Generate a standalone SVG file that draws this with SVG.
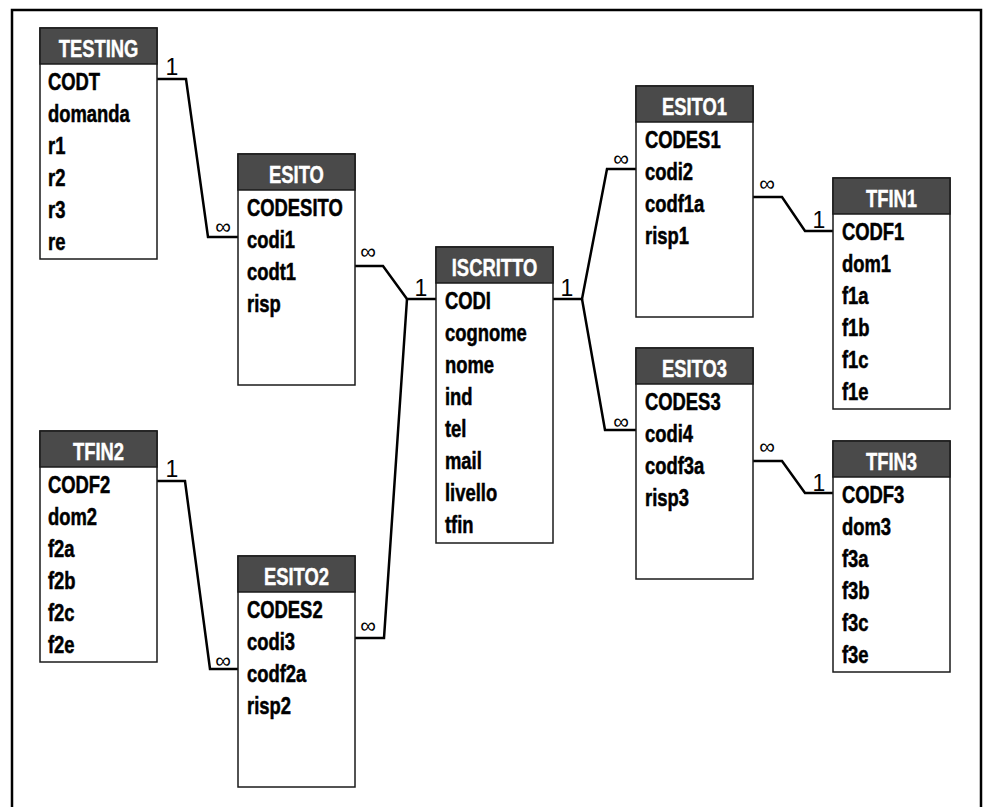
<svg xmlns="http://www.w3.org/2000/svg" width="985" height="807" viewBox="0 0 985 807">
<style>
.frame{fill:#fff;stroke:#000;stroke-width:2.5}
.box{fill:#fff;stroke:#1a1a1a;stroke-width:1.5}
.hdr{fill:#4a4a4a;stroke:#1a1a1a;stroke-width:1.5}
.ht{font-family:"Liberation Sans",Arial,sans-serif;font-weight:bold;font-size:23px;fill:#fff;stroke:#fff;stroke-width:0.4;text-anchor:middle}
.ft{font-family:"Liberation Sans",Arial,sans-serif;font-weight:bold;font-size:23px;fill:#000;stroke:#000;stroke-width:0.5}
.ln{fill:none;stroke:#000;stroke-width:2.5;stroke-linejoin:miter}
.lb{font-family:"Liberation Sans",Arial,sans-serif;font-size:23px;fill:#000;text-anchor:middle}
.inf{font-family:"Liberation Sans",Arial,sans-serif;font-size:22px;fill:#000;text-anchor:middle}
</style>
<rect class="frame" x="12" y="10" width="969" height="830"/>
<g id="connectors">
<polyline class="ln" points="157,79 186,79 208,237 238,237"/>
<text class="lb" x="172" y="75">1</text>
<text class="inf" x="223" y="234">∞</text>
<polyline class="ln" points="355,266 383,266 407,299 436,299"/>
<text class="inf" x="368" y="259">∞</text>
<text class="lb" x="421" y="296">1</text>
<polyline class="ln" points="355,638 384,638 407,299"/>
<text class="inf" x="368" y="633">∞</text>
<polyline class="ln" points="553,299 582,299 607,169 636,169"/>
<polyline class="ln" points="582,299 605,430 636,430"/>
<text class="lb" x="567" y="296">1</text>
<text class="inf" x="621" y="166">∞</text>
<text class="inf" x="621" y="429">∞</text>
<polyline class="ln" points="753,197 782,197 805,231 833,231"/>
<text class="inf" x="767" y="191">∞</text>
<text class="lb" x="819" y="228">1</text>
<polyline class="ln" points="753,461 782,461 805,493 833,493"/>
<text class="inf" x="767" y="454">∞</text>
<text class="lb" x="819" y="491">1</text>
<polyline class="ln" points="157,481 185,481 210,669 238,669"/>
<text class="lb" x="172" y="477">1</text>
<text class="inf" x="223" y="668">∞</text>
</g>
<g id="TESTING">
<rect class="box" x="40" y="28" width="117" height="231"/>
<rect class="hdr" x="40" y="28" width="117" height="36"/>
<text class="ht" transform="translate(98.5,57) scale(0.8,1)">TESTING</text>
<g transform="translate(48,0) scale(0.8,1)">
<text class="ft" y="90">CODT</text>
<text class="ft" y="122">domanda</text>
<text class="ft" y="154">r1</text>
<text class="ft" y="186">r2</text>
<text class="ft" y="218">r3</text>
<text class="ft" y="250">re</text>
</g>
</g>
<g id="ESITO">
<rect class="box" x="238" y="154" width="117" height="231"/>
<rect class="hdr" x="238" y="154" width="117" height="36"/>
<text class="ht" transform="translate(296.5,183) scale(0.8,1)">ESITO</text>
<g transform="translate(247,0) scale(0.8,1)">
<text class="ft" y="216">CODESITO</text>
<text class="ft" y="248">codi1</text>
<text class="ft" y="280">codt1</text>
<text class="ft" y="312">risp</text>
</g>
</g>
<g id="ISCRITTO">
<rect class="box" x="436" y="247" width="117" height="296"/>
<rect class="hdr" x="436" y="247" width="117" height="36"/>
<text class="ht" transform="translate(494.5,276) scale(0.8,1)">ISCRITTO</text>
<g transform="translate(445,0) scale(0.8,1)">
<text class="ft" y="309">CODI</text>
<text class="ft" y="341">cognome</text>
<text class="ft" y="373">nome</text>
<text class="ft" y="405">ind</text>
<text class="ft" y="437">tel</text>
<text class="ft" y="469">mail</text>
<text class="ft" y="501">livello</text>
<text class="ft" y="533">tfin</text>
</g>
</g>
<g id="ESITO1">
<rect class="box" x="636" y="86" width="117" height="231"/>
<rect class="hdr" x="636" y="86" width="117" height="36"/>
<text class="ht" transform="translate(694.5,115) scale(0.8,1)">ESITO1</text>
<g transform="translate(645,0) scale(0.8,1)">
<text class="ft" y="148">CODES1</text>
<text class="ft" y="180">codi2</text>
<text class="ft" y="212">codf1a</text>
<text class="ft" y="244">risp1</text>
</g>
</g>
<g id="TFIN1">
<rect class="box" x="833" y="178" width="117" height="231"/>
<rect class="hdr" x="833" y="178" width="117" height="36"/>
<text class="ht" transform="translate(891.5,207) scale(0.8,1)">TFIN1</text>
<g transform="translate(842,0) scale(0.8,1)">
<text class="ft" y="240">CODF1</text>
<text class="ft" y="272">dom1</text>
<text class="ft" y="304">f1a</text>
<text class="ft" y="336">f1b</text>
<text class="ft" y="368">f1c</text>
<text class="ft" y="400">f1e</text>
</g>
</g>
<g id="ESITO3">
<rect class="box" x="636" y="348" width="117" height="231"/>
<rect class="hdr" x="636" y="348" width="117" height="36"/>
<text class="ht" transform="translate(694.5,377) scale(0.8,1)">ESITO3</text>
<g transform="translate(645,0) scale(0.8,1)">
<text class="ft" y="410">CODES3</text>
<text class="ft" y="442">codi4</text>
<text class="ft" y="474">codf3a</text>
<text class="ft" y="506">risp3</text>
</g>
</g>
<g id="TFIN3">
<rect class="box" x="833" y="441" width="117" height="231"/>
<rect class="hdr" x="833" y="441" width="117" height="36"/>
<text class="ht" transform="translate(891.5,470) scale(0.8,1)">TFIN3</text>
<g transform="translate(842,0) scale(0.8,1)">
<text class="ft" y="503">CODF3</text>
<text class="ft" y="535">dom3</text>
<text class="ft" y="567">f3a</text>
<text class="ft" y="599">f3b</text>
<text class="ft" y="631">f3c</text>
<text class="ft" y="663">f3e</text>
</g>
</g>
<g id="TFIN2">
<rect class="box" x="40" y="431" width="117" height="231"/>
<rect class="hdr" x="40" y="431" width="117" height="36"/>
<text class="ht" transform="translate(98.5,460) scale(0.8,1)">TFIN2</text>
<g transform="translate(48,0) scale(0.8,1)">
<text class="ft" y="493">CODF2</text>
<text class="ft" y="525">dom2</text>
<text class="ft" y="557">f2a</text>
<text class="ft" y="589">f2b</text>
<text class="ft" y="621">f2c</text>
<text class="ft" y="653">f2e</text>
</g>
</g>
<g id="ESITO2">
<rect class="box" x="238" y="556" width="117" height="231"/>
<rect class="hdr" x="238" y="556" width="117" height="36"/>
<text class="ht" transform="translate(296.5,585) scale(0.8,1)">ESITO2</text>
<g transform="translate(247,0) scale(0.8,1)">
<text class="ft" y="618">CODES2</text>
<text class="ft" y="650">codi3</text>
<text class="ft" y="682">codf2a</text>
<text class="ft" y="714">risp2</text>
</g>
</g>
</svg>
